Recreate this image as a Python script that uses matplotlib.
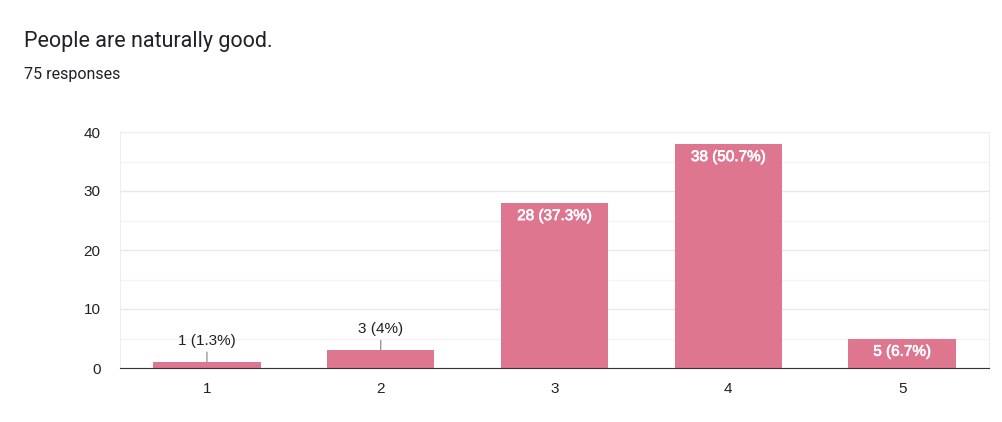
import matplotlib.pyplot as plt
import matplotlib.patheffects as pe
import numpy as np

plt.rcParams['font.family'] = ['Liberation Sans', 'DejaVu Sans']

categories = ['1', '2', '3', '4', '5']
counts = [1, 3, 28, 38, 5]
labels = ['1 (1.3%)', '3 (4%)', '28 (37.3%)', '38 (50.7%)', '5 (6.7%)']
outside = [True, True, False, False, False]

bar_color = '#de7690'

fig = plt.figure(figsize=(10.02, 4.22), dpi=100)
fig.text(24 / 1002, 1 - 41 / 422, 'People are naturally good.', fontsize=15.5,
         color='#202124', va='center', ha='left', family='Roboto')
fig.text(24 / 1002, 1 - 74 / 422, '75 responses', fontsize=11.5,
         color='#202124', va='center', ha='left', family='Roboto')

ax = fig.add_axes([120 / 1002, 1 - 368 / 422, (989 - 120) / 1002, (368 - 132) / 422])
x = np.arange(len(categories))
ax.bar(x, counts, width=0.617, color=bar_color, zorder=2)

ax.set_xlim(-0.5, 4.5)
ax.set_ylim(0, 40)
ax.set_xticks(x)
ax.set_xticklabels(categories)
ax.set_yticks([0, 10, 20, 30, 40])
ax.set_yticks([5, 15, 25, 35], minor=True)
ax.grid(axis='y', which='major', color='#e8e8e8', linewidth=1, zorder=0)
ax.grid(axis='y', which='minor', color='#f4f4f4', linewidth=1, zorder=0)
ax.tick_params(axis='both', which='both', length=0, labelsize=11, labelcolor='#222222')
ax.tick_params(axis='x', pad=10)
ax.tick_params(axis='y', pad=14)

for side in ['top', 'left', 'right']:
    ax.spines[side].set_color('#eeeeee')
ax.spines['bottom'].set_color('#333333')
ax.spines['bottom'].set_zorder(3)

for xi, c, lab, out in zip(x, counts, labels, outside):
    if out:
        ax.annotate(lab, xy=(xi, c), xytext=(xi, c + 2.4), ha='center', va='bottom',
                    fontsize=11, color='#222222',
                    arrowprops=dict(arrowstyle='-', color='#999999', lw=1,
                                    shrinkA=1, shrinkB=0))
    else:
        # slight stroke to mimic the heavier white label text
        ax.annotate(lab, xy=(xi, c), xytext=(0, -4.5), textcoords='offset points',
                    ha='center', va='top', fontsize=11, color='white', zorder=4,
                    path_effects=[pe.withStroke(linewidth=0.5, foreground='white')])

fig.savefig('out.png', dpi=100, facecolor='white')
